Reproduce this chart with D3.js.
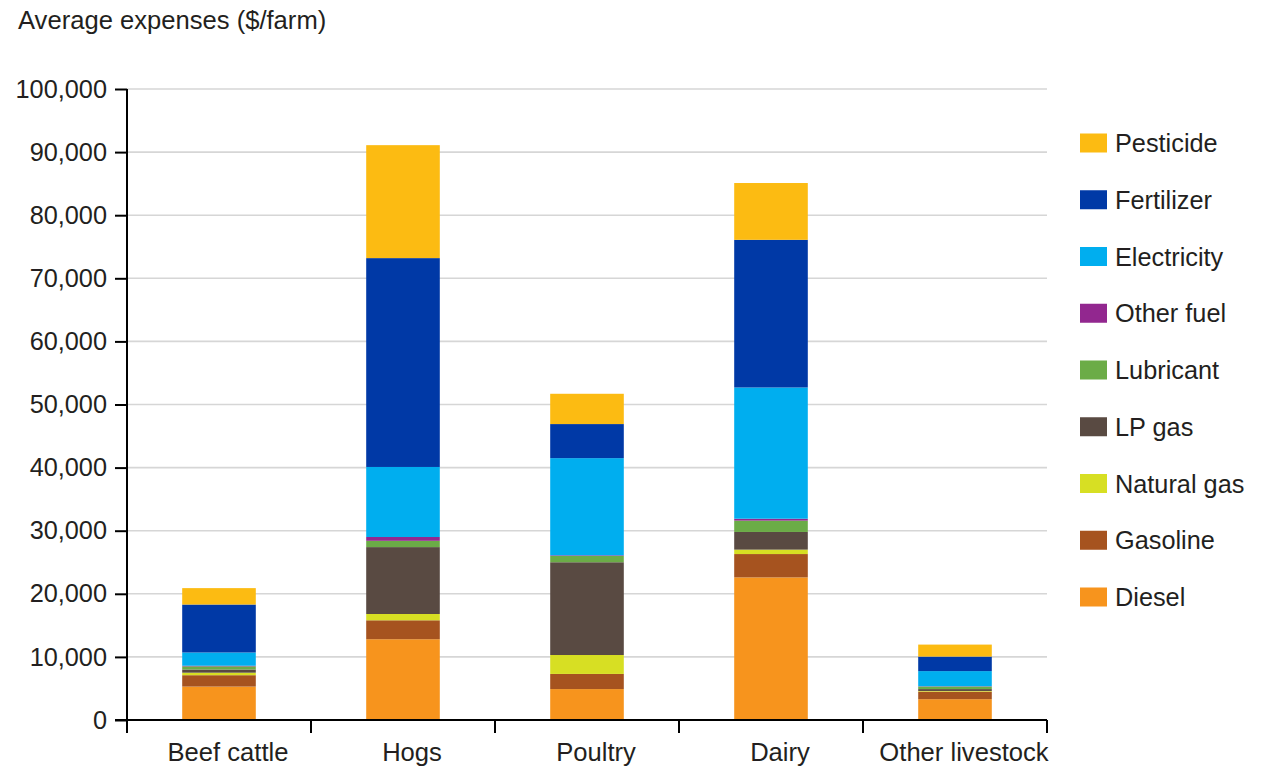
<!DOCTYPE html>
<html>
<head>
<meta charset="utf-8">
<script src="https://cdn.jsdelivr.net/npm/d3@7/dist/d3.min.js"></script>
<style>
  html, body { margin: 0; padding: 0; background: #fff; }
  svg { display: block; font-family: "Liberation Sans", Arial, sans-serif; }
</style>
</head>
<body>
<svg id="chart" width="1268" height="769"></svg>
<script>
// Farm types along the x axis
const categories = ["Beef cattle", "Hogs", "Poultry", "Dairy", "Other livestock"];

// Expense components, listed bottom of stack to top
const seriesNames = ["Diesel", "Gasoline", "Natural gas", "LP gas", "Lubricant",
                     "Other fuel", "Electricity", "Fertilizer", "Pesticide"];

// Average expenses per farm ($), one value per farm type
const diesel     = [5300, 12800,  4900, 22600, 3300];
const gasoline   = [1800,  3000,  2400,  3700, 1200];
const naturalGas = [ 400,  1000,  3000,   700,  100];
const lpGas      = [ 500, 10600, 14700,  2800,  300];
const lubricant  = [ 500,  1000,  1000,  1800,  400];
const otherFuel  = [ 100,   600,   100,   300,   50];
const electricity= [2100, 11100, 15400, 20800, 2400];
const fertilizer = [7600, 33100,  5400, 23400, 2300];
const pesticide  = [2600, 17900,  4800,  9000, 1900];

const yTicks = [0, 10000, 20000, 30000, 40000, 50000, 60000, 70000, 80000, 90000, 100000];

const colors = {
  "Diesel": "#f7941d",
  "Gasoline": "#a6531f",
  "Natural gas": "#d7df23",
  "LP gas": "#594a42",
  "Lubricant": "#6bac47",
  "Other fuel": "#92278f",
  "Electricity": "#00aeef",
  "Fertilizer": "#0039a6",
  "Pesticide": "#fcbb12"
};

const seriesValues = [diesel, gasoline, naturalGas, lpGas, lubricant,
                      otherFuel, electricity, fertilizer, pesticide];

// Row-per-category table for d3.stack
const table = categories.map((c, i) => {
  const row = { category: c };
  seriesNames.forEach((s, j) => { row[s] = seriesValues[j][i]; });
  return row;
});

const svg = d3.select("#chart");
const plot = { left: 127, right: 1047, top: 89, bottom: 720 };

const x = d3.scaleBand()
  .domain(categories)
  .range([plot.left, plot.right])
  .paddingInner(0.6)
  .paddingOuter(0.3);

const y = d3.scaleLinear()
  .domain([0, 100000])
  .range([plot.bottom, plot.top]);

const textColor = "#231f20";

// Horizontal gridlines
svg.append("g")
  .selectAll("line")
  .data(yTicks.filter(d => d > 0))
  .join("line")
  .attr("x1", plot.left)
  .attr("x2", plot.right)
  .attr("y1", d => y(d))
  .attr("y2", d => y(d))
  .attr("stroke", "#d6d6d6")
  .attr("stroke-width", 1.6);

// Stacked bars
const stacked = d3.stack().keys(seriesNames)(table);

svg.append("g")
  .selectAll("g")
  .data(stacked)
  .join("g")
  .attr("fill", d => colors[d.key])
  .selectAll("rect")
  .data(d => d)
  .join("rect")
  .attr("x", d => x(d.data.category))
  .attr("width", x.bandwidth())
  .attr("y", d => y(d[1]))
  .attr("height", d => y(d[0]) - y(d[1]));

// Y axis
const yAxis = svg.append("g")
  .attr("transform", `translate(${plot.left},0)`)
  .call(d3.axisLeft(y)
    .tickValues(yTicks)
    .tickSize(12)
    .tickPadding(8)
    .tickFormat(d3.format(",")));
yAxis.select(".domain").attr("stroke", "#000").attr("stroke-width", 2)
  .attr("d", `M0,${plot.top}V${plot.bottom}`);
yAxis.selectAll(".tick line").attr("stroke", "#000").attr("stroke-width", 2);
yAxis.selectAll(".tick text")
  .attr("fill", textColor)
  .style("font-size", "25.3px")
  .style("font-family", "'Liberation Sans', Arial, sans-serif");

// X axis with ticks on band boundaries
const xAxisG = svg.append("g");
xAxisG.append("line")
  .attr("x1", plot.left - 12)
  .attr("x2", plot.right)
  .attr("y1", plot.bottom)
  .attr("y2", plot.bottom)
  .attr("stroke", "#000")
  .attr("stroke-width", 2);

const step = x.step();
const boundaries = d3.range(categories.length + 1).map(i => plot.left + i * step);
xAxisG.selectAll("line.xt")
  .data(boundaries)
  .join("line")
  .attr("class", "xt")
  .attr("x1", d => d)
  .attr("x2", d => d)
  .attr("y1", plot.bottom)
  .attr("y2", plot.bottom + 13)
  .attr("stroke", "#000")
  .attr("stroke-width", 2);

xAxisG.selectAll("text")
  .data(categories)
  .join("text")
  .attr("x", d => x(d) + x.bandwidth() / 2 + 9)
  .attr("y", 761)
  .attr("text-anchor", "middle")
  .attr("fill", textColor)
  .style("font-size", "25.6px")
  .text(d => d);

// Axis title
svg.append("text")
  .attr("x", 18)
  .attr("y", 29)
  .attr("fill", textColor)
  .style("font-size", "25.6px")
  .text("Average expenses ($/farm)");

// Legend, top entry is the top of the stack
const legendOrder = seriesNames.slice().reverse();
const legend = svg.append("g")
  .selectAll("g")
  .data(legendOrder)
  .join("g")
  .attr("transform", (d, i) => `translate(1080, ${143 + i * 56.75})`);

legend.append("rect")
  .attr("x", 0)
  .attr("y", -9.5)
  .attr("width", 27)
  .attr("height", 19)
  .attr("fill", d => colors[d]);

legend.append("text")
  .attr("x", 35)
  .attr("y", 0)
  .attr("dy", "0.36em")
  .attr("fill", textColor)
  .style("font-size", "25.3px")
  .text(d => d);
</script>
</body>
</html>
